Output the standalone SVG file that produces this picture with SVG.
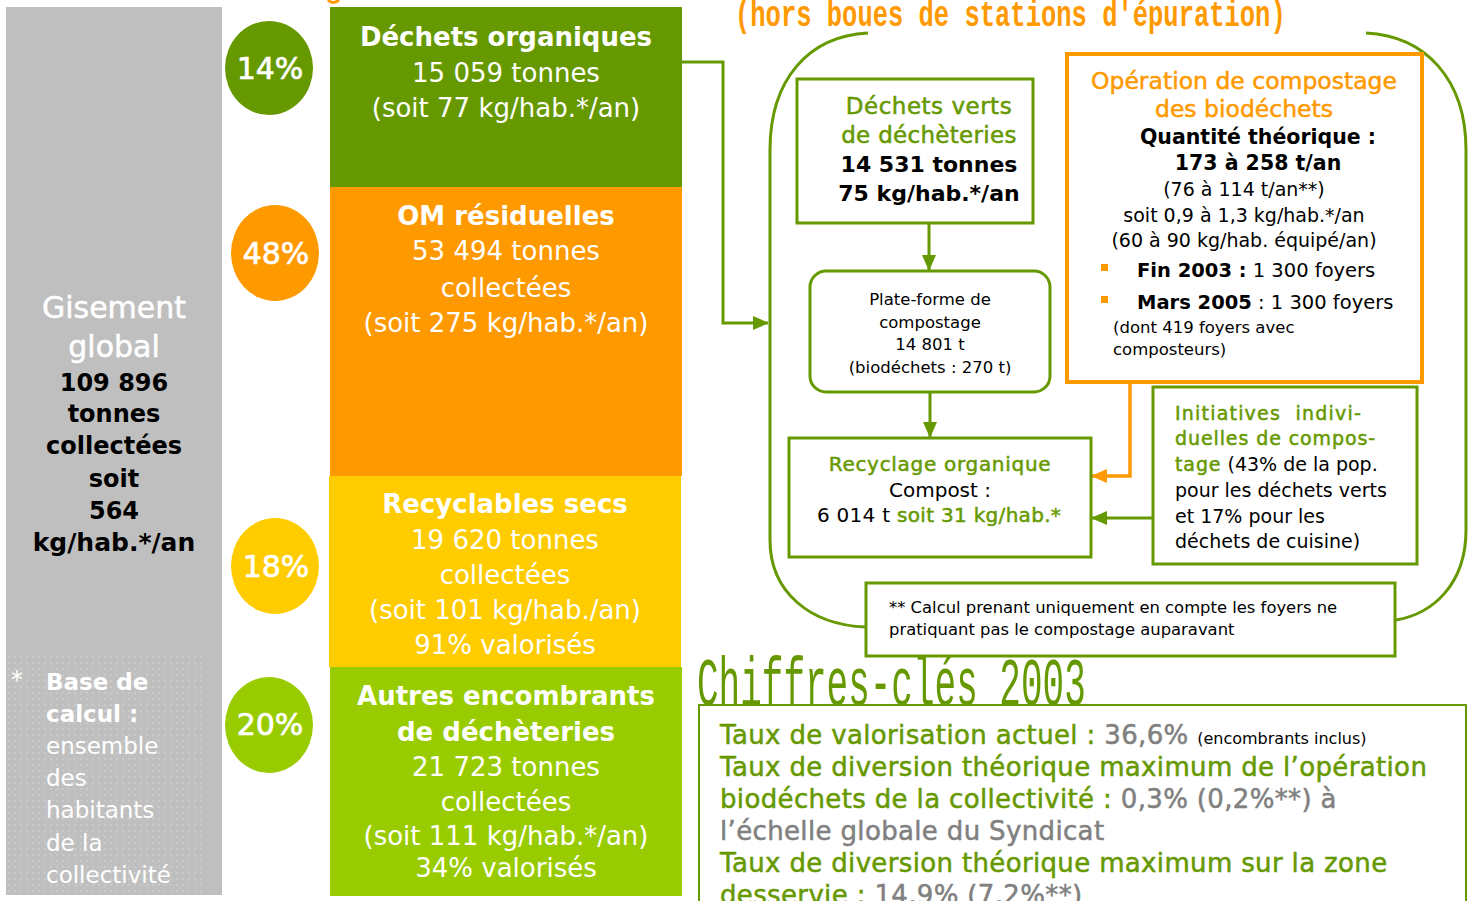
<svg xmlns="http://www.w3.org/2000/svg" width="1474" height="901" viewBox="0 0 1474 901">
<style>
text{font-family:"DejaVu Sans","Verdana",sans-serif;stroke-width:0}
.w{fill:#ffffff;stroke:#ffffff}
.k{fill:#000000;stroke:#000000}
.g{fill:#669900;stroke:#669900}
.o{fill:#ff9900;stroke:#ff9900}
.gr{fill:#808080;stroke:#808080}
.b{font-weight:bold}
.m{stroke-width:0.5px}
.bar{font-size:26px;text-anchor:middle;fill:#ffffff}
.pct{font-size:30px;text-anchor:middle;fill:#ffffff;stroke:#ffffff;stroke-width:0.7px}
.gbox{fill:#ffffff;stroke:#669900;stroke-width:3}
.obox{fill:#ffffff;stroke:#ff9900;stroke-width:4}
.gl{fill:none;stroke:#669900;stroke-width:3}
.ol{fill:none;stroke:#ff9900;stroke-width:3.5}
.mono{font-family:"Liberation Mono","Courier New",monospace}
.key{font-size:26px;letter-spacing:0.35px}
</style>
<defs>
<pattern id="dots" width="6" height="6" patternUnits="userSpaceOnUse">
<circle cx="3" cy="3" r="0.7" fill="#ffffff" fill-opacity="0.45"/>
</pattern>
<marker id="ag" markerWidth="16" markerHeight="14" refX="15" refY="7" orient="auto" markerUnits="userSpaceOnUse">
<path d="M0,0 L16,7 L0,14 Z" fill="#669900"/>
</marker>
<marker id="ao" markerWidth="16" markerHeight="14" refX="15" refY="7" orient="auto" markerUnits="userSpaceOnUse">
<path d="M0,0 L16,7 L0,14 Z" fill="#ff9900"/>
</marker>
</defs>
<rect width="1474" height="901" fill="#ffffff"/>

<!-- titles -->
<g id="title-hors-boues">
<text class="mono o b" font-size="25.5" transform="translate(735,26) scale(1,1.45)">(hors boues de stations d'épuration)</text>
</g>
<path d="M328,0 Q333,5 339,0" fill="none" stroke="#ff9900" stroke-width="3"/>

<!-- left grey panel -->
<g id="gisement">
<rect x="6" y="7" width="216" height="888" fill="#bfbfbf"/>
<rect x="8" y="652" width="198" height="243" fill="url(#dots)"/>
<text class="w m" font-size="30" text-anchor="middle" x="114" y="318">Gisement</text>
<text class="w m" font-size="30" text-anchor="middle" x="114" y="357">global</text>
<text class="k b" font-size="24" text-anchor="middle" x="114" y="391">109 896</text>
<text class="k b" font-size="24" text-anchor="middle" x="114" y="422">tonnes</text>
<text class="k b" font-size="24" text-anchor="middle" x="114" y="454">collectées</text>
<text class="k b" font-size="24" text-anchor="middle" x="114" y="487">soit</text>
<text class="k b" font-size="24" text-anchor="middle" x="114" y="519">564</text>
<text class="k b" font-size="25" text-anchor="middle" x="114" y="551">kg/hab.*/an</text>
</g>
<g id="base-calcul">
<text class="w" font-size="24" x="11" y="688">*</text>
<text class="w b" font-size="23" x="46" y="690">Base de</text>
<text class="w b" font-size="23" x="46" y="722">calcul :</text>
<text class="w" font-size="23" x="46" y="754">ensemble</text>
<text class="w" font-size="23" x="46" y="786">des</text>
<text class="w" font-size="23" x="46" y="818">habitants</text>
<text class="w" font-size="23" x="46" y="851">de la</text>
<text class="w" font-size="23" x="46" y="883">collectivité</text>
</g>

<!-- percentage ellipses -->
<g id="pct14"><ellipse cx="269" cy="68" rx="44" ry="47" fill="#669900"/><text class="pct" x="270" y="79">14%</text></g>
<g id="pct48"><ellipse cx="275" cy="253" rx="44" ry="48" fill="#ff9900"/><text class="pct" x="276" y="264">48%</text></g>
<g id="pct18"><ellipse cx="275" cy="566" rx="44" ry="48" fill="#ffcc00"/><text class="pct" x="276" y="577">18%</text></g>
<g id="pct20"><ellipse cx="269" cy="725" rx="44" ry="48" fill="#99cc00"/><text class="pct" x="270" y="735">20%</text></g>

<!-- stacked bars -->
<g id="dechets-organiques">
<rect x="330" y="7" width="352" height="180" fill="#669900"/>
<text class="bar b" x="506" y="46">Déchets organiques</text>
<text class="bar" x="506" y="82">15 059 tonnes</text>
<text class="bar" x="506" y="117">(soit 77 kg/hab.*/an)</text>
</g>
<g id="om-residuelles">
<rect x="330" y="187" width="352" height="289" fill="#ff9900"/>
<text class="bar b" x="506" y="225">OM résiduelles</text>
<text class="bar" x="506" y="260">53 494 tonnes</text>
<text class="bar" x="506" y="297">collectées</text>
<text class="bar" x="506" y="332">(soit 275 kg/hab.*/an)</text>
</g>
<g id="recyclables-secs">
<rect x="329" y="476" width="352" height="191" fill="#ffcc00"/>
<text class="bar b" x="505" y="513">Recyclables secs</text>
<text class="bar" x="505" y="549">19 620 tonnes</text>
<text class="bar" x="505" y="584">collectées</text>
<text class="bar" x="505" y="619">(soit 101 kg/hab./an)</text>
<text class="bar" x="505" y="654">91% valorisés</text>
</g>
<g id="autres-encombrants">
<rect x="330" y="667" width="352" height="229" fill="#99cc00"/>
<text class="bar b" x="506" y="705">Autres encombrants</text>
<text class="bar b" x="506" y="741">de déchèteries</text>
<text class="bar" x="506" y="776">21 723 tonnes</text>
<text class="bar" x="506" y="811">collectées</text>
<text class="bar" x="506" y="845">(soit 111 kg/hab.*/an)</text>
<text class="bar" x="506" y="877">34% valorisés</text>
</g>

<!-- connectors -->
<g id="connectors">
<path class="gl" d="M868,33 C808,36 770,80 770,150 L770,540 C770,592 810,625 866,627"/>
<path class="gl" d="M1366,33 C1426,36 1466,80 1466,150 L1466,530 C1466,585 1432,614 1396,620"/>
<path class="gl" d="M682,62 L723,62 L723,323 L768,323" marker-end="url(#ag)"/>
<path class="gl" d="M929,223 L929,270" marker-end="url(#ag)"/>
<path class="gl" d="M930,392 L930,437" marker-end="url(#ag)"/>
<path class="ol" d="M1130,382 L1130,476 L1092,476" marker-end="url(#ao)"/>
<path class="gl" d="M1153,518 L1092,518" marker-end="url(#ag)"/>
</g>

<!-- flow boxes -->
<g id="dechets-verts">
<rect class="gbox" x="797" y="79" width="236" height="144"/>
<text class="g m" font-size="23" letter-spacing="0.5" text-anchor="middle" x="929" y="114">Déchets verts</text>
<text class="g m" font-size="23" letter-spacing="0.3" text-anchor="middle" x="929" y="143">de déchèteries</text>
<text class="k b" font-size="22" text-anchor="middle" x="929" y="172">14 531 tonnes</text>
<text class="k b" font-size="22" text-anchor="middle" x="929" y="201">75 kg/hab.*/an</text>
</g>
<g id="plate-forme">
<rect class="gbox" x="810" y="271" width="240" height="121" rx="16"/>
<text class="k" font-size="16.5" text-anchor="middle" x="930" y="305">Plate-forme de</text>
<text class="k" font-size="16.5" text-anchor="middle" x="930" y="328">compostage</text>
<text class="k" font-size="16.5" text-anchor="middle" x="930" y="350">14 801 t</text>
<text class="k" font-size="16.5" text-anchor="middle" x="930" y="373">(biodéchets : 270 t)</text>
</g>
<g id="recyclage-organique">
<rect class="gbox" x="789" y="438" width="302" height="119"/>
<text class="g m" font-size="20" letter-spacing="0.7" text-anchor="middle" x="940" y="471">Recyclage organique</text>
<text class="k" font-size="20" text-anchor="middle" x="940" y="497">Compost :</text>
<text class="k" font-size="20" letter-spacing="0.3" text-anchor="middle" x="939" y="522">6 014 t <tspan class="g m">soit 31 kg/hab.*</tspan></text>
</g>
<g id="operation-compostage">
<rect class="obox" x="1067" y="54" width="355" height="328"/>
<text class="o m" font-size="23.5" text-anchor="middle" x="1244" y="89">Opération de compostage</text>
<text class="o m" font-size="23.5" text-anchor="middle" x="1244" y="117">des biodéchets</text>
<text class="k b" font-size="20.5" text-anchor="middle" x="1258" y="144">Quantité théorique :</text>
<text class="k b" font-size="20.5" text-anchor="middle" x="1258" y="170">173 à 258 t/an</text>
<text class="k" font-size="19" text-anchor="middle" x="1244" y="196">(76 à 114 t/an**)</text>
<text class="k" font-size="19" text-anchor="middle" x="1244" y="222">soit 0,9 à 1,3 kg/hab.*/an</text>
<text class="k" font-size="19" text-anchor="middle" x="1244" y="247">(60 à 90 kg/hab. équipé/an)</text>
<rect x="1101" y="264" width="7" height="7" fill="#ff9900"/>
<text class="k" font-size="19.5" x="1137" y="277"><tspan class="b">Fin 2003 :</tspan> 1 300 foyers</text>
<rect x="1101" y="296" width="7" height="7" fill="#ff9900"/>
<text class="k" font-size="19.5" x="1137" y="309"><tspan class="b">Mars 2005</tspan> : 1 300 foyers</text>
<text class="k" font-size="16.5" x="1113" y="333">(dont 419 foyers avec</text>
<text class="k" font-size="16.5" x="1113" y="355">composteurs)</text>
</g>
<g id="initiatives">
<rect class="gbox" x="1153" y="387" width="264" height="177"/>
<text class="g m" font-size="19" letter-spacing="1.2" x="1175" y="420" xml:space="preserve">Initiatives  indivi-</text>
<text class="g m" font-size="19" letter-spacing="0.9" x="1175" y="445">duelles de compos-</text>
<text class="k" font-size="19" x="1175" y="471"><tspan class="g m" letter-spacing="0.9">tage</tspan> (43% de la pop.</text>
<text class="k" font-size="19" x="1175" y="497">pour les déchets verts</text>
<text class="k" font-size="19" x="1175" y="523">et 17% pour les</text>
<text class="k" font-size="19" x="1175" y="548">déchets de cuisine)</text>
</g>
<g id="note-calcul">
<rect class="gbox" x="866" y="583" width="529" height="73"/>
<text class="k" font-size="16.4" x="889" y="613">** Calcul prenant uniquement en compte les foyers ne</text>
<text class="k" font-size="16.4" x="889" y="635">pratiquant pas le compostage auparavant</text>
</g>

<!-- chiffres-clés -->
<g id="chiffres-cles">
<text class="mono g" font-size="36" transform="translate(697,705) scale(1,1.88)">Chiffres-clés 2003</text>
<rect x="699" y="705" width="767" height="210" fill="none" stroke="#669900" stroke-width="2"/>
<text class="key g m" x="720" y="744">Taux de valorisation actuel : <tspan class="gr">36,6%</tspan> <tspan class="k" font-size="16" letter-spacing="0" stroke-width="0">(encombrants inclus)</tspan></text>
<text class="key g m" x="720" y="776">Taux de diversion théorique maximum de l’opération</text>
<text class="key g m" x="720" y="808">biodéchets de la collectivité : <tspan class="gr">0,3% (0,2%**) à</tspan></text>
<text class="key gr m" x="720" y="840">l’échelle globale du Syndicat</text>
<text class="key g m" x="720" y="872">Taux de diversion théorique maximum sur la zone</text>
<text class="key g m" x="720" y="904">desservie : <tspan class="gr">14,9% (7,2%**)</tspan></text>
</g>
</svg>
